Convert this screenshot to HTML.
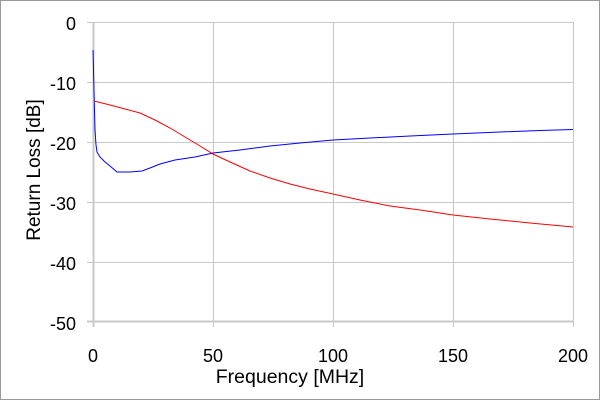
<!DOCTYPE html>
<html><head><style>body{margin:0;background:#fff}</style></head><body>
<svg width="600" height="400" xmlns="http://www.w3.org/2000/svg" font-family="Liberation Sans, Arial, sans-serif">
<rect x="0.5" y="0.5" width="599" height="399" fill="#fff" stroke="#999"/>
<g stroke="#c8c8c8" stroke-width="1">
<line x1="87" y1="22.5" x2="573" y2="22.5"/>
<line x1="87" y1="82.5" x2="573" y2="82.5"/>
<line x1="87" y1="142.5" x2="573" y2="142.5"/>
<line x1="87" y1="202.5" x2="573" y2="202.5"/>
<line x1="87" y1="262.5" x2="573" y2="262.5"/>
<line x1="87" y1="321.5" x2="573" y2="321.5" stroke-width="2"/>
<line x1="93.5" y1="22" x2="93.5" y2="327" stroke-width="2"/>
<line x1="213.5" y1="22" x2="213.5" y2="327"/>
<line x1="333.5" y1="22" x2="333.5" y2="327"/>
<line x1="453.5" y1="22" x2="453.5" y2="327"/>
<line x1="573.5" y1="22" x2="573.5" y2="327"/>
</g>
<g font-size="18" fill="#000" text-anchor="end">
<text x="76" y="30">0</text><text x="76" y="90">-10</text><text x="76" y="150">-20</text>
<text x="76" y="210">-30</text><text x="76" y="270">-40</text><text x="76" y="330">-50</text>
</g>
<g font-size="18" fill="#000" text-anchor="middle">
<text x="93" y="362">0</text><text x="213" y="362">50</text><text x="333" y="362">100</text>
<text x="453" y="362">150</text><text x="573" y="362">200</text>
</g>
<text x="290" y="383" font-size="19.5" text-anchor="middle">Frequency [MHz]</text>
<text transform="translate(40,170) rotate(-90)" font-size="19" text-anchor="middle">Return Loss [dB]</text>
<polyline fill="none" stroke="#0000ff" stroke-width="1" points="93,50 94,90 95,130 96,145 97,152 100,157 105,162 110,166 117,172 130,172 142,171 150,168 160,164 175,160 195,157 213,153 240,150 270,146 300,143 333,140 370,138 410,136 453,134 500,132 540,130.5 573,129.5"/>
<polyline fill="none" stroke="#ff0000" stroke-width="1" points="94,101 110,105 125,109 140,113 155,120 170,128 185,137 200,146 213,154 230,162 250,171 270,178 290,184 310,189 333,194 360,200 390,206 420,210 453,215 490,219 530,223 573,227"/>
</svg>
</body></html>
